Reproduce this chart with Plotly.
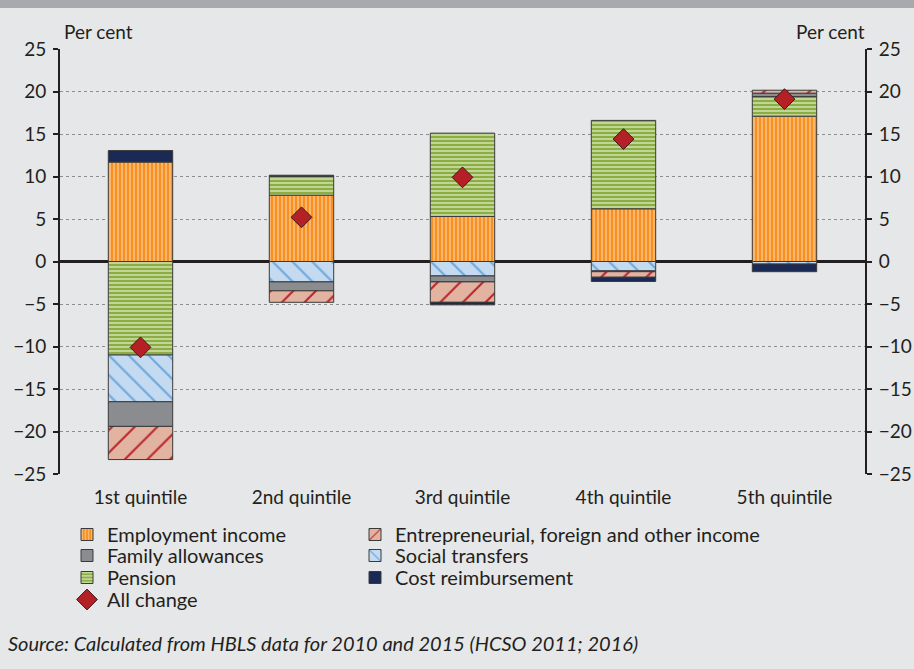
import plotly.graph_objects as go

categories = ["1st quintile", "2nd quintile", "3rd quintile", "4th quintile", "5th quintile"]
employment = [11.7, 7.8, 5.3, 6.2, 17.1]
pension = [-11.0, 2.2, 9.8, 10.4, 2.3]
social = [-5.5, -2.4, -1.7, -1.1, -0.3]
family = [-2.9, -1.05, -0.7, -0.1, 0.4]
entrepreneurial = [-3.9, -1.35, -2.4, -0.65, 0.35]
cost = [1.35, 0.15, -0.3, -0.5, -0.9]
all_change = [-10.1, 5.2, 9.9, 14.4, 19.1]
y_ticks = [-25, -20, -15, -10, -5, 0, 5, 10, 15, 20, 25]

FONT = "Lato"
FS = 19
LFS = 20
TXT = "#231F20"
BG = "#E6E7E8"
OUTLINE = dict(color="#3A3A3A", width=1)
xpos = list(range(len(categories)))

# pixel helpers for paper coordinates (plot area: x 60..865, y 49..474)
def px_x(p):
    return (p - 60) / 805

def px_y(p):
    return (474 - p) / 425

fig = go.Figure()

def add_bar(name, vals, bg, fg=None, shape="", size=8, solidity=0.3, legend="legend"):
    marker = dict(color=bg, line=OUTLINE)
    if shape:
        marker["pattern"] = dict(shape=shape, bgcolor=bg, fgcolor=fg, size=size,
                                 solidity=solidity, fillmode="replace")
    fig.add_trace(go.Bar(x=xpos, y=vals, name=name, marker=marker, width=0.4,
                         legend=legend))

add_bar("Employment income", employment, "#F7901E", "#FCC790", "|", 4, 0.35, "legend")
add_bar("Pension", pension, "#8AAE44", "#CFE1A9", "-", 4, 0.4, "legend3")
add_bar("Social transfers", social, "#C3DAF0", "#6FA8DC", "\\", 14, 0.15, "legend6")
add_bar("Family allowances", family, "#8B8C8F", legend="legend2")
add_bar("Entrepreneurial, foreign and other income", entrepreneurial, "#E3B3A1", "#B8262B", "/", 16, 0.13, "legend5")
add_bar("Cost reimbursement", cost, "#1B2A55", legend="legend7")

fig.add_trace(go.Scatter(x=xpos, y=all_change, mode="markers", name="All change",
                         marker=dict(symbol="diamond", size=16, color="#B42025",
                                     line=dict(color="#3A1A1A", width=1)),
                         legend="legend4"))

# invisible trace to activate right axis
fig.add_trace(go.Scatter(x=xpos, y=all_change, yaxis="y2", mode="markers",
                         marker=dict(opacity=0), showlegend=False, hoverinfo="skip"))

def legend_box(xpix, ypix):
    return dict(xref="paper", yref="paper", x=px_x(xpix), y=px_y(ypix),
                xanchor="left", yanchor="top", bgcolor="rgba(0,0,0,0)",
                font=dict(size=LFS), tracegroupgap=0)

OFF = 20
legends = {
    "legend": legend_box(67, 535 - OFF),
    "legend2": legend_box(67, 556 - OFF),
    "legend3": legend_box(67, 578 - OFF),
    "legend4": legend_box(67, 600 - OFF),
    "legend5": legend_box(355, 535 - OFF),
    "legend6": legend_box(355, 556 - OFF),
    "legend7": legend_box(355, 578 - OFF),
}

fig.update_layout(
    width=914, height=669,
    paper_bgcolor=BG, plot_bgcolor=BG,
    margin=dict(l=60, r=49, t=49, b=195),
    barmode="relative",
    font=dict(family=FONT, size=FS, color=TXT),
    xaxis=dict(range=[-0.5, 4.5], tickvals=xpos, ticktext=categories, showgrid=False,
               zeroline=False, showline=False, ticks="", tickfont=dict(size=FS),
               automargin=False, ticklabelstandoff=10),
    xaxis2=dict(range=[-0.5, 4.5], overlaying="x", anchor="free", position=0.5,
                tickvals=[0.5, 1.5, 2.5, 3.5], ticks="outside", ticklen=5, tickwidth=2,
                tickcolor="#231F20", showticklabels=False, showgrid=False, showline=False,
                zeroline=False),
    yaxis=dict(range=[-25, 25], tickvals=y_ticks, showgrid=True, gridcolor="#8E8E8E",
               griddash="dot", gridwidth=1, zeroline=True, zerolinecolor="#231F20",
               zerolinewidth=2.5, showline=True, linecolor="#231F20", linewidth=2,
               ticks="outside", ticklen=5, tickwidth=2, tickcolor="#231F20",
               ticklabelstandoff=3, automargin=False),
    yaxis2=dict(range=[-25, 25], tickvals=y_ticks, overlaying="y", side="right",
                showgrid=False, zeroline=False, showline=True, linecolor="#231F20",
                linewidth=2, ticks="outside", ticklen=5, tickwidth=2, tickcolor="#231F20",
                ticklabelstandoff=3, automargin=False),
    showlegend=True,
    shapes=[dict(type="rect", xref="paper", yref="paper", x0=px_x(-5), x1=px_x(920),
                 y0=px_y(8), y1=px_y(-5), fillcolor="#A7A9AC", line_width=0,
                 layer="above")],
    annotations=[
        dict(text="Per cent", xref="paper", yref="paper", x=px_x(62), y=px_y(45),
             xanchor="left", yanchor="bottom", showarrow=False, font=dict(size=FS)),
        dict(text="Per cent", xref="paper", yref="paper", x=px_x(867), y=px_y(45),
             xanchor="right", yanchor="bottom", showarrow=False, font=dict(size=FS)),
        dict(text="<i>Source: Calculated from HBLS data for 2010 and 2015 (HCSO 2011; 2016)</i>",
             xref="paper", yref="paper", x=px_x(6), y=px_y(643),
             xanchor="left", yanchor="middle", showarrow=False, font=dict(size=20)),
    ],
    **legends,
)

fig.write_html("out.html", config={"displayModeBar": False},
               post_script="document.body.style.margin='0';")
